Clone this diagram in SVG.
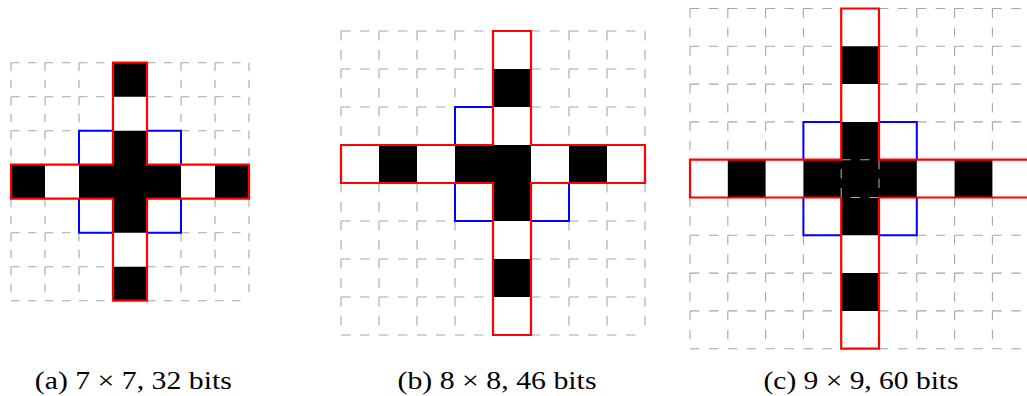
<svg xmlns="http://www.w3.org/2000/svg" width="1027" height="396" viewBox="0 0 1027 396">
<style>
.grid{fill:none;stroke:#a6a6a6;stroke-width:1.1}
.ga{stroke-dasharray:8.5 8.5}
.gb{stroke-dasharray:9.5 9.5}
.gc{stroke-dasharray:9.45 9.45}
.bar{fill:#fff;stroke:none}
.blk{fill:#000;stroke:none}
.blue{fill:none;stroke:#0000ff;stroke-width:2}
.red{fill:none;stroke:#ff0000;stroke-width:2.2;stroke-linejoin:miter}
.cap{font-family:"Liberation Serif","DejaVu Serif",serif;font-size:25px;fill:#000;text-anchor:middle}
</style>
<rect width="1027" height="396" fill="#fff"/>

<g id="panel-a">
  <path class="grid ga" d="M11,62.7V300.7M45,62.7V300.7M79,62.7V300.7M113,62.7V300.7M147,62.7V300.7M181,62.7V300.7M215,62.7V300.7M249,62.7V300.7M11,62.7H249M11,96.7H249M11,130.7H249M11,164.7H249M11,198.7H249M11,232.7H249M11,266.7H249M11,300.7H249"/>
  <path class="bar" d="M113,62.7H147V164.7H249V198.7H147V300.7H113V198.7H11V164.7H113Z"/>
  <path class="blk" d="M113,62.7h34v34h-34z M113,130.7h34v102h-34z M113,266.7h34v34h-34z M11,164.7h34v34h-34z M79,164.7h102v34h-102z M215,164.7h34v34h-34z"/>
  <path class="blue" d="M113,130.7H79V164.7M147,130.7H181V164.7M79,198.7V232.7H113M181,198.7V232.7H147"/>
  <path class="red" d="M113,62.7H147V164.7H249V198.7H147V300.7H113V198.7H11V164.7H113Z"/>
  <text class="cap" x="133.3" y="388.5" textLength="197" lengthAdjust="spacingAndGlyphs">(a) 7 × 7, 32 bits</text>
</g>

<g id="panel-b">
  <path class="grid gb" d="M341,31V335M379,31V335M417,31V335M455,31V335M493,31V335M531,31V335M569,31V335M607,31V335M645,31V335M341,31H645M341,69H645M341,107H645M341,145H645M341,183H645M341,221H645M341,259H645M341,297H645M341,335H645"/>
  <path class="bar" d="M493,31H531V145H645V183H531V335H493V183H341V145H493Z"/>
  <path class="blk" d="M493,69h38v38h-38z M493,145h38v76h-38z M493,259h38v38h-38z M379,145h38v38h-38z M455,145h38v38h-38z M569,145h38v38h-38z"/>
  <path class="blue" d="M493,107H455V145M455,183V221H493M531,221H569V183"/>
  <path class="red" d="M493,31H531V145H645V183H531V335H493V183H341V145H493Z"/>
  <text class="cap" x="497" y="388.5" textLength="199" lengthAdjust="spacingAndGlyphs">(b) 8 × 8, 46 bits</text>
</g>

<g id="panel-c">
  <path class="grid gc" d="M690,8.5V348.7M727.8,8.5V348.7M765.6,8.5V348.7M803.4,8.5V348.7M841.2,8.5V348.7M879,8.5V348.7M916.8,8.5V348.7M954.6,8.5V348.7M992.4,8.5V348.7M1030.2,8.5V348.7M690,8.5H1030.2M690,46.3H1030.2M690,84.1H1030.2M690,121.9H1030.2M690,159.7H1030.2M690,197.5H1030.2M690,235.3H1030.2M690,273.1H1030.2M690,310.9H1030.2M690,348.7H1030.2"/>
  <path class="bar" d="M841.2,8.5H879V159.7H1030.2V197.5H879V348.7H841.2V197.5H690V159.7H841.2Z"/>
  <path class="blk" d="M841.2,46.3h37.8v37.8h-37.8z M841.2,121.9h37.8v113.4h-37.8z M841.2,273.1h37.8v37.8h-37.8z M727.8,159.7h37.8v37.8h-37.8z M803.4,159.7h113.4v37.8h-113.4z M954.6,159.7h37.8v37.8h-37.8z"/>
  <rect class="grid gc" x="841.2" y="159.7" width="37.8" height="37.8"/>
  <path class="blue" d="M841.2,121.9H803.4V159.7M879,121.9H916.8V159.7M803.4,197.5V235.3H841.2M916.8,197.5V235.3H879"/>
  <path class="red" d="M841.2,8.5H879V159.7H1030.2V197.5H879V348.7H841.2V197.5H690V159.7H841.2Z"/>
  <text class="cap" x="861" y="388.5" textLength="195" lengthAdjust="spacingAndGlyphs">(c) 9 × 9, 60 bits</text>
</g>

<g id="connectors"/>
</svg>
